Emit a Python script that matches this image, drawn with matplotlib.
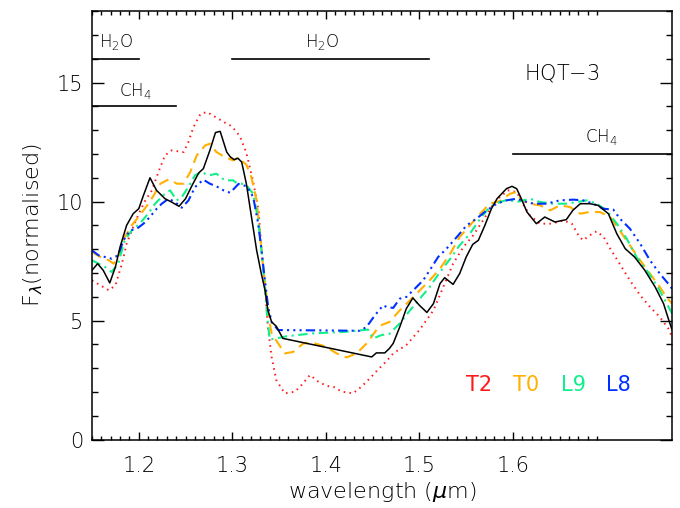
import numpy as np
import matplotlib
matplotlib.use("Agg")
import matplotlib.pyplot as plt
from matplotlib.ticker import FixedLocator, MultipleLocator

# HQT-3 spectrum (black, solid)
hqt_wl = [1.150, 1.156, 1.162, 1.169, 1.175, 1.180, 1.187, 1.194, 1.200, 1.205, 1.212, 1.219,
          1.228, 1.235, 1.243, 1.250, 1.257, 1.264, 1.269, 1.276, 1.282, 1.287, 1.294, 1.298,
          1.302, 1.306, 1.310, 1.315, 1.3205, 1.326, 1.331, 1.335, 1.338, 1.342, 1.347, 1.354,
          1.449, 1.454, 1.463, 1.468, 1.472, 1.479, 1.486, 1.493, 1.500, 1.508, 1.515, 1.522,
          1.527, 1.536, 1.543, 1.550, 1.557, 1.563, 1.570, 1.577, 1.583, 1.588, 1.593, 1.599,
          1.604, 1.608, 1.615, 1.625, 1.634, 1.645, 1.657, 1.664, 1.672, 1.682, 1.691, 1.702,
          1.711, 1.720, 1.730, 1.741, 1.752, 1.761, 1.766, 1.770]
hqt_fl = [7.11, 7.39, 7.11, 6.58, 7.25, 8.09, 9.00, 9.49, 9.70, 10.26, 11.00, 10.47,
          10.12, 9.98, 9.80, 10.12, 10.68, 11.20, 11.38, 12.15, 12.90, 12.95, 12.08, 11.87,
          11.76, 11.82, 11.66, 10.75, 9.35, 7.95, 6.97, 6.27, 5.43, 4.94, 4.76, 4.25,
          3.47, 3.64, 3.64, 3.83, 4.04, 4.73, 5.50, 5.95, 5.64, 5.34, 5.71, 6.55,
          6.80, 6.52, 6.97, 7.67, 8.20, 8.37, 9.00, 9.70, 10.12, 10.33, 10.54, 10.64,
          10.54, 10.20, 9.56, 9.07, 9.35, 9.14, 9.24, 9.63, 9.91, 9.91, 9.84, 9.49,
          8.65, 8.02, 7.67, 7.11, 6.41, 5.71, 5.09, 4.62]

# T2 template (red, dotted)
t2_wl = [1.150, 1.159, 1.168, 1.175, 1.182, 1.187, 1.194, 1.200, 1.207, 1.214, 1.221, 1.228,
         1.235, 1.2425, 1.248, 1.253, 1.2585, 1.266, 1.273, 1.282, 1.291, 1.2995, 1.308, 1.315,
         1.322, 1.328, 1.331, 1.335, 1.338, 1.342, 1.347, 1.356, 1.367, 1.374, 1.383, 1.392,
         1.401, 1.408, 1.417, 1.429, 1.438, 1.447, 1.456, 1.465, 1.472, 1.486, 1.500, 1.515,
         1.5255, 1.536, 1.547, 1.5575, 1.568, 1.577, 1.586, 1.595, 1.604, 1.609, 1.618, 1.629,
         1.641, 1.654, 1.663, 1.670, 1.675, 1.682, 1.6895, 1.697, 1.704, 1.714, 1.725, 1.736,
         1.7465, 1.757, 1.766, 1.770]
t2_fl = [6.69, 6.48, 6.27, 6.48, 7.39, 8.23, 8.93, 9.49, 10.05, 10.47, 11.24, 11.94,
         12.15, 12.11, 12.08, 12.50, 13.13, 13.69, 13.76, 13.55, 13.34, 13.16, 12.75, 12.05,
         10.89, 9.63, 8.09, 6.41, 4.73, 3.47, 2.50, 1.94, 2.01, 2.29, 2.71, 2.43,
         2.25, 2.22, 2.01, 1.94, 2.22, 2.57, 2.95, 3.30, 3.62, 3.97, 4.60, 5.43,
         6.41, 7.39, 8.09, 8.58, 9.21, 9.77, 10.19, 10.47, 10.40, 10.02, 9.42, 9.07,
         9.07, 9.21, 9.07, 8.58, 8.37, 8.58, 8.75, 8.51, 8.02, 7.39, 6.69, 6.06,
         5.57, 5.15, 4.67, 4.31]

# T0 template (orange, dashed)
t0_wl = [1.150, 1.159, 1.168, 1.173, 1.178, 1.185, 1.1925, 1.201, 1.209, 1.216, 1.223, 1.232,
         1.241, 1.248, 1.255, 1.262, 1.271, 1.276, 1.283, 1.292, 1.301, 1.306, 1.315, 1.3205,
         1.326, 1.3295, 1.333, 1.3366, 1.3394, 1.342, 1.349, 1.356, 1.365, 1.376, 1.386, 1.399,
         1.4115, 1.422, 1.433, 1.4436, 1.454, 1.460, 1.468, 1.479, 1.490, 1.5005, 1.511, 1.522,
         1.533, 1.543, 1.554, 1.565, 1.575, 1.586, 1.597, 1.604, 1.609, 1.618, 1.629, 1.640,
         1.650, 1.661, 1.672, 1.682, 1.693, 1.704, 1.714, 1.725, 1.736, 1.7465, 1.757, 1.764,
         1.770]
t0_fl = [7.88, 7.67, 7.53, 7.39, 7.67, 8.51, 9.00, 9.42, 9.84, 10.26, 10.75, 10.93,
         10.75, 10.75, 11.24, 11.94, 12.36, 12.43, 12.08, 11.87, 11.73, 11.85, 11.55, 11.00,
         10.05, 8.65, 7.25, 5.99, 5.01, 4.46, 4.04, 3.62, 3.68, 4.04, 4.06, 3.92,
         3.62, 3.45, 3.62, 4.04, 4.60, 4.82, 4.94, 5.43, 5.85, 6.27, 6.69, 7.18,
         7.81, 8.51, 9.00, 9.49, 9.91, 10.02, 10.33, 10.40, 10.05, 9.91, 9.84, 9.63,
         9.84, 9.77, 9.49, 9.56, 9.56, 9.35, 8.79, 8.16, 7.53, 6.97, 6.41, 5.99,
         5.71]

# L9 template (green, dash-dot)
l9_wl = [1.150, 1.157, 1.164, 1.171, 1.178, 1.185, 1.1925, 1.201, 1.210, 1.2175, 1.226, 1.2335,
         1.2405, 1.246, 1.253, 1.260, 1.267, 1.275, 1.283, 1.292, 1.301, 1.3045, 1.310, 1.3152,
         1.3223, 1.3277, 1.3312, 1.3348, 1.3373, 1.340, 1.347, 1.358, 1.386, 1.4185, 1.440, 1.445,
         1.4506, 1.4596, 1.468, 1.479, 1.490, 1.5005, 1.511, 1.522, 1.533, 1.543, 1.554, 1.565,
         1.575, 1.586, 1.595, 1.604, 1.611, 1.618, 1.629, 1.643, 1.657, 1.668, 1.679, 1.6895,
         1.700, 1.711, 1.7216, 1.732, 1.743, 1.7537, 1.7626, 1.770]
l9_fl = [7.53, 7.39, 7.25, 7.04, 7.39, 8.37, 8.79, 9.07, 9.49, 9.91, 10.26, 10.47,
         10.05, 10.19, 10.61, 11.10, 11.24, 11.10, 11.17, 10.89, 10.89, 10.78, 10.75, 10.68,
         10.33, 9.21, 7.95, 6.41, 5.15, 4.20, 4.25, 4.34, 4.46, 4.52, 4.60, 4.62,
         4.25, 4.39, 4.44, 4.88, 5.43, 5.92, 6.41, 7.04, 7.60, 8.16, 8.65, 9.28,
         9.77, 9.98, 10.08, 9.98, 10.05, 10.12, 9.98, 9.91, 9.91, 9.98, 10.05, 9.91,
         9.63, 9.07, 8.44, 7.67, 7.11, 6.48, 5.85, 5.30]

# L8 template (blue, dash-dot-dot-dot)
l8_wl = [1.150, 1.157, 1.164, 1.171, 1.178, 1.1836, 1.1907, 1.198, 1.205, 1.212, 1.2175, 1.2246,
         1.2318, 1.2388, 1.246, 1.2532, 1.2602, 1.269, 1.276, 1.283, 1.2906, 1.2977, 1.3066, 1.3155,
         1.3223, 1.3277, 1.3312, 1.3348, 1.3383, 1.342, 1.349, 1.4364, 1.4435, 1.4524, 1.4613, 1.4649,
         1.472, 1.479, 1.486, 1.4934, 1.504, 1.511, 1.520, 1.529, 1.540, 1.5505, 1.561, 1.572,
         1.5826, 1.593, 1.604, 1.611, 1.622, 1.636, 1.650, 1.6645, 1.675, 1.686, 1.6966, 1.7073,
         1.7144, 1.725, 1.736, 1.7465, 1.757, 1.766, 1.770]
l8_fl = [7.95, 7.74, 7.67, 7.60, 7.74, 8.37, 8.79, 8.86, 9.07, 9.35, 9.63, 9.91,
         10.12, 9.98, 9.74, 10.05, 10.61, 10.92, 10.75, 10.64, 10.47, 10.37, 10.74, 10.64,
         10.19, 9.07, 7.95, 6.69, 5.57, 4.94, 4.60, 4.57, 4.73, 5.22, 5.64, 5.57,
         5.53, 5.92, 5.99, 6.27, 6.69, 7.11, 7.67, 8.02, 8.51, 9.00, 9.28, 9.63,
         9.91, 10.05, 10.12, 10.02, 9.91, 9.91, 10.05, 10.08, 10.05, 9.91, 9.70, 9.66,
         9.28, 8.86, 8.23, 7.53, 6.97, 6.55, 6.34]

# absorption band markers: (label, start, end, level, text x, text y)
bands = [("H$_2$O", 1.15, 1.20, 16, 1.176, 16.7),
         ("CH$_4$", 1.15, 1.24, 14, 1.196, 14.65),
         ("H$_2$O", 1.30, 1.51, 16, 1.396, 16.7),
         ("CH$_4$", 1.60, 1.77, 12, 1.695, 12.7)]

plt.rcParams['font.family'] = ['DejaVu Sans']
plt.rcParams['font.weight'] = 'light'
plt.rcParams['axes.labelweight'] = 'light'
plt.rcParams['mathtext.fontset'] = 'custom'
plt.rcParams['mathtext.rm'] = 'DejaVu Sans:light'
plt.rcParams['mathtext.it'] = 'DejaVu Sans:italic'
plt.rcParams['mathtext.bf'] = 'DejaVu Sans:bold'

fig = plt.figure(figsize=(6.8, 5.08), dpi=100)
ax = fig.add_axes([0.1353, 0.1348, 0.8529, 0.8432])

red, orange, green, blue = '#ff1a1a', '#ffb000', '#10f08a', '#0030ff'

ax.plot(t2_wl, t2_fl, color=red, lw=1.4, linestyle=(0, (0.8, 2.2)))
ax.plot(t0_wl, t0_fl, color=orange, lw=1.5, linestyle=(0, (5, 3)))
ax.plot(l9_wl, l9_fl, color=green, lw=1.5, linestyle=(0, (4.5, 2.2, 1, 2.2)))
ax.plot(l8_wl, l8_fl, color=blue, lw=1.5, linestyle=(0, (4.5, 2, 1, 2, 1, 2, 1, 2)))
ax.plot(hqt_wl, hqt_fl, color='black', lw=1.1)

for label, x0, x1, lev, tx, ty in bands:
    ax.plot([x0, x1], [lev, lev], color='black', lw=1.2)
    ax.text(tx, ty, label, fontsize=12, ha='center', va='center')

ax.text(1.612, 15.4, "HQT$-$3", fontsize=15, ha='left', va='center')

for name, col, xpos in [("T2", red, 1.550), ("T0", orange, 1.600),
                        ("L9", green, 1.651), ("L8", blue, 1.700)]:
    ax.text(xpos, 2.3, name, color=col, fontsize=15, fontweight='normal',
            ha='left', va='center')

ax.set_xlim(1.15, 1.77)
ax.set_ylim(0, 18)
ax.xaxis.set_major_locator(FixedLocator([1.2, 1.3, 1.4, 1.5, 1.6]))
ax.xaxis.set_minor_locator(FixedLocator(np.round(np.arange(1.15, 1.695, 0.01), 3)))
ax.yaxis.set_major_locator(MultipleLocator(5))
ax.yaxis.set_minor_locator(MultipleLocator(1))
ax.xaxis.set_major_formatter(plt.FuncFormatter(lambda v, p: f"{v:.1f}"))

ax.tick_params(axis='both', which='both', direction='in', top=True, right=True,
               labelsize=15, width=1.0, colors='black')
ax.tick_params(axis='x', which='major', length=5.5, pad=12)
ax.tick_params(axis='x', which='minor', length=3.1)
ax.tick_params(axis='y', which='major', length=8.3, pad=6.5)
ax.tick_params(axis='y', which='minor', length=4)
for s in ax.spines.values():
    s.set_linewidth(1.1)

ax.set_xlabel(r"wavelength ($\mu$m)", fontsize=16, fontweight='light', labelpad=3)
ax.set_ylabel(r"F$_\lambda$(normalised)", fontsize=16, fontweight='light', labelpad=8)

fig.savefig("out.png", dpi=100)
